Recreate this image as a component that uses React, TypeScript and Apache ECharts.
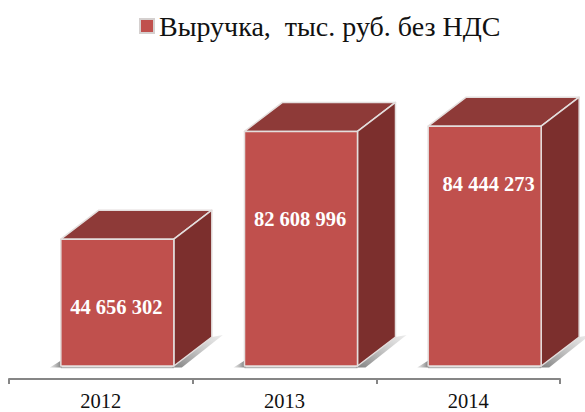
import React, { useEffect, useRef } from "react";
import * as echarts from "echarts";

const categories = ["2012", "2013", "2014"];
const revenue = [44656302, 82608996, 84444273];
const valueLabels = ["44 656 302", "82 608 996", "84 444 273"];
const seriesName = "Выручка,  тыс. руб. без НДС";
const labelDropFromTop = [68, 88, 58];
const labelShiftRight = [0, 0, 5];

const FRONT = "#C0504D";
const TOP = "#8E3A38";
const SIDE = "#7C2F2D";
const EDGE = "#E4DEDD";
const BAR_W = 113;
const DX = 38;
const DY = 29;
const SHIFT = 16.5;

function renderItem(_params: any, api: any) {
  const idx = api.value(0);
  const [cx, yTop] = api.coord([idx, api.value(1)]);
  const [, yBase] = api.coord([idx, 0]);
  const x0 = cx + SHIFT - BAR_W / 2;
  const x1 = x0 + BAR_W;
  const line = { stroke: EDGE, lineWidth: 1.5, lineJoin: "round" };
  return {
    type: "group",
    children: [
      {
        type: "polygon",
        shape: { points: [[x1 - 2, yBase + 1.5], [x1 + DX, yBase - DY], [x1 + DX + 11, yBase - DY - 2], [x1 + 8, yBase + 1.5]] },
        style: {
          fill: new echarts.graphic.LinearGradient(0, 1, 1, 0, [
            { offset: 0, color: "rgba(120,120,120,0.95)" },
            { offset: 1, color: "rgba(190,190,190,0.3)" },
          ]),
        },
      },
      {
        type: "polygon",
        shape: { points: [[x0 - 11, yBase + 1.5], [x0 + 1, yBase - 6], [x0 + 1, yBase + 1.5]] },
        style: {
          fill: new echarts.graphic.LinearGradient(0, 0, 1, 0, [
            { offset: 0, color: "rgba(190,190,190,0.4)" },
            { offset: 1, color: "rgba(110,110,110,0.95)" },
          ]),
        },
      },
      {
        type: "rect",
        shape: { x: x0, y: yBase + 0.8, width: BAR_W, height: 1.4 },
        style: { fill: "rgba(150,150,150,0.7)" },
      },
      {
        type: "polygon",
        shape: { points: [[x0, yTop], [x0 + DX, yTop - DY], [x1 + DX, yTop - DY], [x1, yTop]] },
        style: { fill: TOP, ...line },
      },
      {
        type: "polygon",
        shape: { points: [[x1, yTop], [x1 + DX, yTop - DY], [x1 + DX, yBase - DY], [x1, yBase]] },
        style: { fill: SIDE, ...line },
      },
      {
        type: "rect",
        shape: { x: x0, y: yTop, width: BAR_W, height: yBase - yTop },
        style: { fill: FRONT, ...line },
      },
      {
        type: "text",
        style: {
          x: x0 + BAR_W / 2 - 1 + labelShiftRight[idx],
          y: yTop + labelDropFromTop[idx],
          text: valueLabels[idx],
          fill: "#FFFFFF",
          font: 'bold 20.5px "Liberation Serif"',
          align: "center",
          verticalAlign: "middle",
        },
      },
    ],
  };
}

export default function App() {
  const ref = useRef<HTMLDivElement>(null);
  useEffect(() => {
    const chart = echarts.init(ref.current!, null, { renderer: "svg" });
    chart.setOption({
      animation: false,
      backgroundColor: "#FFFFFF",
      legend: {
        left: 134,
        top: 7,
        icon: "rect",
        itemWidth: 14,
        itemHeight: 14,
        itemGap: 8,
        textStyle: { fontFamily: "Liberation Serif", fontSize: 28, color: "#111111" },
      },
      grid: { left: 9, right: 25, top: 82, bottom: 46 },
      xAxis: {
        type: "category",
        data: categories,
        offset: 13,
        boundaryGap: true,
        axisLine: { onZero: false, lineStyle: { color: "#868686", width: 2 } },
        axisTick: { show: true, length: 5, interval: 0, lineStyle: { color: "#868686", width: 2 } },
        axisLabel: { fontFamily: "Liberation Serif", fontSize: 20.5, color: "#111111", margin: 11 },
      },
      yAxis: { type: "value", min: 0, max: 100000000, show: false },
      series: [
        {
          type: "custom",
          name: seriesName,
          renderItem,
          clip: false,
          encode: { x: 0, y: 1 },
          itemStyle: { color: FRONT, borderColor: "#D5D0CF", borderWidth: 1 },
          data: revenue.map((v, i) => [i, v]),
        },
      ],
    });
    return () => chart.dispose();
  }, []);
  return <div ref={ref} style={{ position: "fixed", left: 0, top: 0, width: 585, height: 412 }} />;
}
